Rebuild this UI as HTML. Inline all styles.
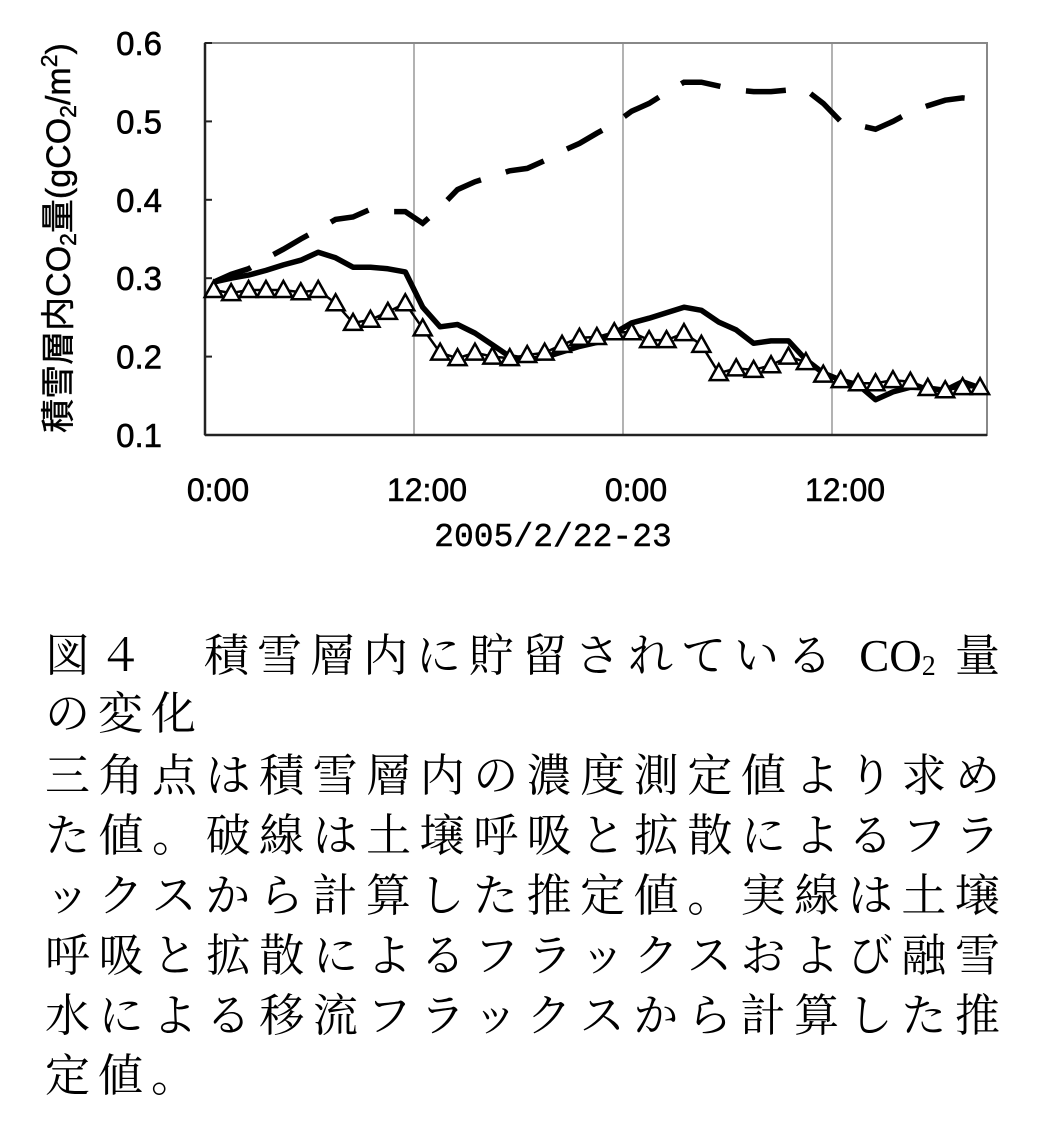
<!DOCTYPE html>
<html><head><meta charset="utf-8">
<style>
html,body{margin:0;padding:0;background:#fff;}
body{width:1045px;height:1131px;position:relative;overflow:hidden;}
.cap{position:absolute;left:45px;width:955px;font-family:"Liberation Serif","Noto Serif CJK SC",serif;font-size:45px;line-height:1;color:#000;white-space:nowrap;}
.j{text-align:justify;text-align-last:justify;}
.ls{letter-spacing:8px;}
</style></head><body>
<svg id="chart" width="1045" height="600" style="position:absolute;left:0;top:0" font-family="'Liberation Sans','Noto Sans CJK JP',sans-serif"></svg>

<div class="cap j" style="top:634px">図４　積雪層内に貯留されている CO<sub style="font-size:28px;vertical-align:-4px">2</sub> 量</div>
<div class="cap ls" style="top:692px">の変化</div>
<div class="cap j" style="top:754px">三角点は積雪層内の濃度測定値より求め</div>
<div class="cap j" style="top:814px">た値。破線は土壌呼吸と拡散によるフラ</div>
<div class="cap j" style="top:874px">ックスから計算した推定値。実線は土壌</div>
<div class="cap j" style="top:934px">呼吸と拡散によるフラックスおよび融雪</div>
<div class="cap j" style="top:994px">水による移流フラックスから計算した推</div>
<div class="cap ls" style="top:1054px">定値。</div>

<script>
const hours = Array.from({length:45},(_,i)=>i+0.5);
const measured = [0.285,0.281,0.285,0.285,0.285,0.282,0.285,0.268,0.243,0.247,0.257,0.268,0.236,0.205,0.198,0.205,0.2,0.198,0.202,0.205,0.215,0.224,0.225,0.231,0.231,0.221,0.221,0.230,0.215,0.179,0.185,0.183,0.189,0.2,0.193,0.177,0.170,0.166,0.166,0.170,0.168,0.160,0.157,0.161,0.161];
const solid = [0.295,0.300,0.304,0.310,0.317,0.323,0.333,0.326,0.314,0.314,0.312,0.308,0.263,0.238,0.241,0.230,0.215,0.200,0.196,0.199,0.206,0.213,0.218,0.230,0.243,0.249,0.256,0.263,0.259,0.244,0.234,0.217,0.220,0.220,0.196,0.179,0.170,0.164,0.145,0.155,0.161,0.160,0.157,0.168,0.160];
const dashed = [0.295,0.305,0.312,0.325,0.337,0.350,0.362,0.375,0.378,0.388,0.385,0.385,0.370,0.390,0.413,0.423,0.430,0.437,0.440,0.450,0.462,0.472,0.485,0.497,0.513,0.523,0.537,0.550,0.550,0.545,0.540,0.538,0.538,0.540,0.540,0.523,0.500,0.495,0.490,0.500,0.512,0.520,0.527,0.530,0.528];
const yTicks = [0.1,0.2,0.3,0.4,0.5,0.6];
const xTickHours = [0,12,24,36];
const xTickLabels = ["0:00","12:00","0:00","12:00"];

const X0=205,X1=987,Y0=435,Y1=43;
const xs=h=>X0+h*(X1-X0)/44.9;
const ys=v=>Y0-(v-0.1)*(Y0-Y1)/0.5;
const svg=document.getElementById('chart');
const NS='http://www.w3.org/2000/svg';
function mk(t,a,p){const e=document.createElementNS(NS,t);for(const k in a)e.setAttribute(k,a[k]);(p||svg).appendChild(e);return e;}

for(let i=1;i<xTickHours.length;i++){const g=mk('line',{x1:xs(xTickHours[i]),x2:xs(xTickHours[i]),y1:Y1,y2:Y0,stroke:'#999','stroke-width':1.5});

}
const fr=mk('rect',{x:X0,y:Y1,width:X1-X0,height:Y0-Y1,fill:'none',stroke:'#888','stroke-width':2});


const ax=mk('line',{x1:X0,x2:X0,y1:Y1,y2:Y0,stroke:'#222','stroke-width':2.5});


const axb=mk('line',{x1:X0,x2:X1,y1:Y0,y2:Y0,stroke:'#222','stroke-width':2.5});



yTicks.forEach(v=>{
  const tk=mk('line',{x1:X0,x2:X0+7,y1:ys(v),y2:ys(v),stroke:'#222','stroke-width':2});
  
  
  const t=mk('text',{x:162,y:ys(v)+12,'text-anchor':'end','font-size':33,stroke:'#000','stroke-width':0.6});
  t.textContent=v.toFixed(1);
  
  
});
xTickHours.forEach((h,i)=>{
  const t=mk('text',{x:xs(h)+13,y:501,'text-anchor':'middle','font-size':32,stroke:'#000','stroke-width':0.6});
  t.textContent=xTickLabels[i];
  
  
});
const xt=mk('text',{x:553,y:546,'text-anchor':'middle','font-size':33,'font-family':"'Liberation Mono',monospace",stroke:'#000','stroke-width':0.4});
xt.textContent='2005/2/22-23';


const yt=mk('text',{x:0,y:0,'text-anchor':'middle','font-size':34,stroke:'#000','stroke-width':0.4,transform:'translate(70,238) rotate(-90)'});
yt.innerHTML='積雪層内CO<tspan font-size="23" dy="6">2</tspan><tspan dy="-6">量(gCO</tspan><tspan font-size="23" dy="6">2</tspan><tspan dy="-6">/m</tspan><tspan font-size="23" dy="-13">2</tspan><tspan dy="13">)</tspan>';



function pts(arr){return arr.map((v,i)=>xs(hours[i]).toFixed(1)+','+ys(v).toFixed(1)).join(' ');}
const dl=mk('polyline',{points:pts(dashed),fill:'none',stroke:'#000','stroke-width':5.5,'stroke-dasharray':'40 26'});


const ml=mk('polyline',{points:pts(measured),fill:'none',stroke:'#000','stroke-width':2.5});


const sl=mk('polyline',{points:pts(solid),fill:'none',stroke:'#000','stroke-width':5.5,'stroke-linejoin':'round'});


measured.forEach((v,i)=>{
  const cx=xs(hours[i]),cy=ys(v);
  const p=mk('polygon',{points:`${cx},${cy-9} ${cx-9},${cy+7} ${cx+9},${cy+7}`,fill:'#fff',stroke:'#000','stroke-width':2.5});
  
  
});
</script>
</body></html>
